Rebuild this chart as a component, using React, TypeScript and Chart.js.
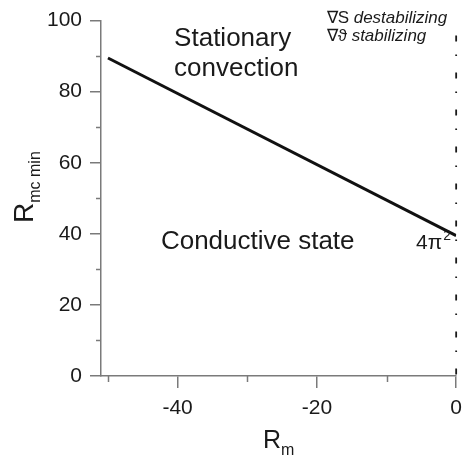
import React, { useEffect, useRef } from "react";
import { Chart, registerables } from "chart.js";

Chart.register(...registerables);

// ---- data ----
const LINE_X = [-50, 0];
const LINE_Y = [89.48, 39.48];
const BOUNDARY_X = [0, 0];
const BOUNDARY_Y = [100, 0];
const X_MAJOR = [-40, -20, 0];
const X_MINOR = [-50, -30, -10];
const Y_MAJOR = [0, 20, 40, 60, 80, 100];
const Y_MINOR = [10, 30, 50, 70, 90];
const X_RANGE = [-51, 0];
const Y_RANGE = [0, 100];

// annotation anchors (data units)
const REGION_LABELS = ["Stationary", "convection", "Conductive state"];
const REGION_X = [-40.5, -40.5, -42.4];
const REGION_Y = [92.8, 84.4, 35.7];
const NOTE_PREFIX = ["∇S ", "∇ϑ "];
const NOTE_TEXT = ["destabilizing", "stabilizing"];
const NOTE_X = -18.6;
const NOTE_Y = [99.3, 94.2];

const FONT = '"Liberation Sans", Arial, Helvetica, sans-serif';
const AXIS_COLOR = "#7a7a7a";
const TEXT_COLOR = "#1a1a1a";

const extrasPlugin = {
  id: "extras",
  afterDraw(chart: any) {
    const ctx = chart.ctx as CanvasRenderingContext2D;
    const xs = chart.scales.x;
    const ys = chart.scales.y;
    const area = chart.chartArea;
    ctx.save();
    // minor ticks
    ctx.strokeStyle = AXIS_COLOR;
    ctx.lineWidth = 1.5;
    X_MINOR.forEach((v) => {
      const px = Math.round(xs.getPixelForValue(v)) + 0.5;
      ctx.beginPath();
      ctx.moveTo(px, area.bottom);
      ctx.lineTo(px, area.bottom + 6);
      ctx.stroke();
    });
    Y_MINOR.forEach((v) => {
      const py = Math.round(ys.getPixelForValue(v)) + 0.5;
      ctx.beginPath();
      ctx.moveTo(area.left, py);
      ctx.lineTo(area.left - 5, py);
      ctx.stroke();
    });

    ctx.fillStyle = TEXT_COLOR;
    ctx.textBaseline = "alphabetic";
    ctx.textAlign = "left";
    // region labels
    REGION_LABELS.forEach((t, i) => {
      const px = xs.getPixelForValue(REGION_X[i]);
      const py = ys.getPixelForValue(REGION_Y[i]);
      ctx.font = `26px ${FONT}`;
      ctx.fillText(t, px, py);
    });

    // 4π²
    {
      const px = xs.getPixelForValue(-5.75);
      const py = ys.getPixelForValue(35.7);
      ctx.font = `21px ${FONT}`;
      ctx.fillText("4π", px, py);
      const w = ctx.measureText("4π").width;
      ctx.font = `14px ${FONT}`;
      ctx.fillText("2", px + w + 1, py - 9);
    }

    // gradient notes
    {
      const px = xs.getPixelForValue(NOTE_X);
      NOTE_TEXT.forEach((b, i) => {
        const a = NOTE_PREFIX[i];
        const py = ys.getPixelForValue(NOTE_Y[i]);
        ctx.font = `17px ${FONT}`;
        ctx.fillText(a, px, py);
        const w = ctx.measureText(a).width;
        ctx.font = `italic 17px ${FONT}`;
        ctx.fillText(b, px + w, py);
      });
    }

    // x axis title R_m
    {
      const cx = (area.left + area.right) / 2;
      const by = area.bottom + 72;
      ctx.font = `25px ${FONT}`;
      const w1 = ctx.measureText("R").width;
      ctx.font = `16px ${FONT}`;
      const w2 = ctx.measureText("m").width;
      const start = cx - (w1 + w2) / 2;
      ctx.font = `25px ${FONT}`;
      ctx.fillText("R", start, by);
      ctx.font = `16px ${FONT}`;
      ctx.fillText("m", start + w1, by + 7);
    }

    // y axis title R_mc min
    {
      ctx.save();
      ctx.translate(33, 223);
      ctx.rotate(-Math.PI / 2);
      ctx.font = `28px ${FONT}`;
      ctx.fillText("R", 0, 0);
      const w1 = ctx.measureText("R").width;
      ctx.font = `16px ${FONT}`;
      ctx.fillText("mc min", w1, 7);
      ctx.restore();
    }
    ctx.restore();
  },
};

export default function App() {
  const canvasRef = useRef<HTMLCanvasElement | null>(null);

  useEffect(() => {
    if (!canvasRef.current) return;
    const chart = new Chart(canvasRef.current, {
      type: "scatter",
      data: {
        datasets: [
          {
            data: LINE_X.map((x, i) => ({ x, y: LINE_Y[i] })),
            showLine: true,
            borderColor: "#111111",
            borderWidth: 3,
            pointRadius: 0,
          },
          {
            data: BOUNDARY_X.map((x, i) => ({ x, y: BOUNDARY_Y[i] })),
            showLine: true,
            borderColor: "#1a1a1a",
            borderWidth: 1.8,
            borderDash: [6, 13, 1.5, 16.5],
            borderDashOffset: 22,
            pointRadius: 0,
            clip: false as any,
          } as any,
        ],
      },
      options: {
        animation: false,
        responsive: false,
        layout: { padding: { top: 17, right: 9, left: 0, bottom: 0 } },
        plugins: {
          legend: { display: false },
          tooltip: { enabled: false },
        },
        scales: {
          x: {
            type: "linear",
            min: X_RANGE[0],
            max: X_RANGE[1],
            afterBuildTicks: (s: any) => {
              s.ticks = X_MAJOR.map((v) => ({ value: v }));
            },
            afterFit: (s: any) => {
              s.height = 85;
            },
            grid: {
              drawOnChartArea: false,
              drawTicks: true,
              tickLength: 12,
              color: AXIS_COLOR,
              lineWidth: 1.5,
            },
            border: { display: true, color: AXIS_COLOR, width: 1.5 },
            ticks: {
              font: { family: FONT, size: 21 },
              color: TEXT_COLOR,
              padding: 8,
              maxRotation: 0,
              callback: (v: any) => String(v),
            },
          },
          y: {
            type: "linear",
            min: Y_RANGE[0],
            max: Y_RANGE[1],
            afterBuildTicks: (s: any) => {
              s.ticks = Y_MAJOR.map((v) => ({ value: v }));
            },
            afterFit: (s: any) => {
              s.width = 101;
            },
            grid: {
              drawOnChartArea: false,
              drawTicks: true,
              tickLength: 11,
              color: AXIS_COLOR,
              lineWidth: 1.5,
            },
            border: { display: true, color: AXIS_COLOR, width: 1.5 },
            ticks: {
              font: { family: FONT, size: 21 },
              color: TEXT_COLOR,
              padding: 8,
              callback: (v: any) => String(v),
            },
          },
        },
      },
      plugins: [extrasPlugin],
    });
    return () => chart.destroy();
  }, []);

  return (
    <div style={{ position: "fixed", left: 0, top: 0, width: 470, height: 461, background: "#fff" }}>
      <canvas ref={canvasRef} width={470} height={461} />
    </div>
  );
}
